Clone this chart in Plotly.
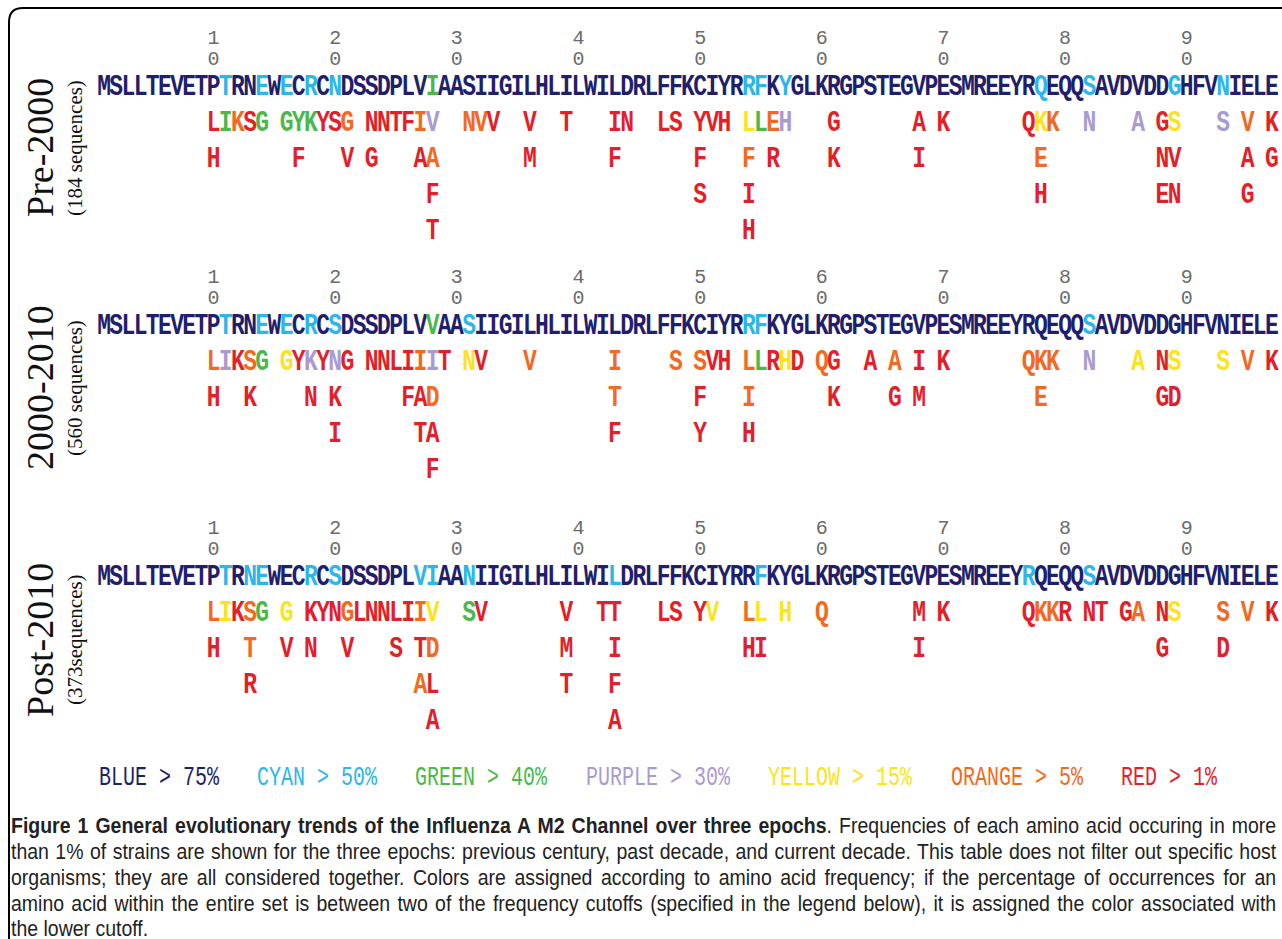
import plotly.graph_objects as go

W, H = 1282, 939

# ---------------- data ----------------
EPOCH_NAMES = ["Pre-2000", "2000-2010", "Post-2010"]
EPOCH_COUNTS = ["(184 sequences)", "(560 sequences)", "(373sequences)"]

CONSENSUS_PRE = "MSLLTEVETPTRNEWECRCNDSSDPLVIAASIIGILHLILWILDRLFFKCIYRRFKYGLKRGPSTEGVPESMREEYRQEQQSAVDVDDGHFVNIELE"
CONSENSUS_MID = "MSLLTEVETPTRNEWECRCSDSSDPLVVAASIIGILHLILWILDRLFFKCIYRRFKYGLKRGPSTEGVPESMREEYRQEQQSAVDVDDGHFVNIELE"
CONSENSUS_POST = "MSLLTEVETPTRNEWECRCSDSSDPLVIAANIIGILHLILWILDRLFFKCIYRRFKYGLKRGPSTEGVPESMREEYRQEQQSAVDVDDGHFVNIELE"

# consensus residues that are only cyan (>50%) or green (>40%)
CYAN_PRE = [11, 14, 16, 18, 20, 54, 55, 57, 78, 82, 89, 93]
GREEN_PRE = [28]
CYAN_MID = [11, 14, 16, 18, 20, 31, 54, 55, 82]
GREEN_MID = [28]
CYAN_POST = [11, 13, 14, 18, 20, 27, 28, 31, 43, 55, 77, 82]
GREEN_POST = []

# variant rows: (start position, residues, colour codes)
VARIANTS_PRE = [
    [(10, "LIKSG", "RGORG"), (16, "GYKYSG", "GGGRRO"), (23, "NNTFIV", "RRRROP"),
     (31, "NVV", "OOR"), (36, "V", "R"), (39, "T", "R"), (43, "IN", "RR"),
     (47, "LS", "RR"), (50, "YVH", "RRR"), (54, "LLEH", "YGOP"), (61, "G", "R"),
     (68, "A", "R"), (70, "K", "R"), (77, "QKK", "RYO"), (82, "N", "P"),
     (86, "A", "P"), (88, "GS", "RY"), (93, "S", "P"), (95, "V", "O"), (97, "K", "R")],
    [(10, "H", "R"), (17, "F", "R"), (21, "V", "R"), (23, "G", "R"), (27, "AA", "RO"),
     (36, "M", "R"), (43, "F", "R"), (50, "F", "R"), (54, "F", "O"), (56, "R", "R"),
     (61, "K", "R"), (68, "I", "R"), (78, "E", "O"), (88, "NV", "RR"),
     (95, "A", "R"), (97, "G", "R")],
    [(28, "F", "R"), (50, "S", "R"), (54, "I", "R"), (78, "H", "R"),
     (88, "EN", "RR"), (95, "G", "R")],
    [(28, "T", "R"), (54, "H", "R")],
]
VARIANTS_MID = [
    [(10, "LIKSG", "OPROG"), (16, "GYKYNG", "YRPRPR"), (23, "NNLIIIT", "RRRROPR"),
     (31, "NV", "YR"), (36, "V", "O"), (43, "I", "O"), (48, "S", "O"),
     (50, "SVH", "ORR"), (54, "LLRHD", "OGRYR"), (60, "QG", "OR"), (64, "A", "R"),
     (66, "A", "O"), (68, "I", "R"), (70, "K", "R"), (77, "QKK", "OOO"),
     (82, "N", "P"), (86, "A", "Y"), (88, "NS", "RY"), (93, "S", "Y"),
     (95, "V", "O"), (97, "K", "R")],
    [(10, "H", "R"), (13, "K", "R"), (18, "N", "R"), (20, "K", "R"), (26, "FAD", "RRO"),
     (43, "T", "O"), (50, "F", "R"), (54, "I", "O"), (61, "K", "R"), (66, "G", "R"),
     (68, "M", "R"), (78, "E", "O"), (88, "GD", "RR")],
    [(20, "I", "R"), (27, "TA", "RR"), (43, "F", "R"), (50, "Y", "R"), (54, "H", "R")],
    [(28, "F", "R")],
]
VARIANTS_POST = [
    [(10, "LIKSG", "OYROG"), (16, "G", "Y"), (18, "KYNGLNNLIIV", "RRRORRRRROY"),
     (31, "SV", "GR"), (39, "V", "R"), (42, "TT", "RR"), (47, "LS", "RR"),
     (50, "YV", "RY"), (54, "LL", "OY"), (57, "H", "Y"), (60, "Q", "O"),
     (68, "M", "R"), (70, "K", "R"), (77, "QKKR", "ROOR"), (82, "NT", "RR"),
     (85, "GA", "RO"), (88, "NS", "RY"), (93, "S", "O"), (95, "V", "O"), (97, "K", "R")],
    [(10, "H", "R"), (13, "T", "O"), (16, "V", "R"), (18, "N", "R"), (21, "V", "R"),
     (25, "S", "R"), (27, "TD", "RO"), (39, "M", "R"), (43, "I", "R"),
     (54, "HI", "RR"), (68, "I", "R"), (88, "G", "R"), (93, "D", "R")],
    [(13, "R", "R"), (27, "AL", "OR"), (39, "T", "R"), (43, "F", "R")],
    [(28, "A", "R"), (43, "A", "R")],
]

TICK_POS = [10, 20, 30, 40, 50, 60, 70, 80, 90]

LEGEND_LABELS = ["BLUE > 75%", "CYAN > 50%", "GREEN > 40%", "PURPLE > 30%",
                 "YELLOW > 15%", "ORANGE > 5%", "RED > 1%"]
LEGEND_CODES = ["B", "C", "G", "P", "Y", "O", "R"]

CAPTION_LINES = [
    "<b>Figure 1 General evolutionary trends of the Influenza A M2 Channel over three epochs</b>. "
    "Frequencies of each amino acid occuring in more",
    "than 1% of strains are shown for the three epochs: previous century, past decade, and current decade. "
    "This table does not filter out specific host",
    "organisms; they are all considered together. Colors are assigned according to amino acid frequency; "
    "if the percentage of occurrences for an",
    "amino acid within the entire set is between two of the frequency cutoffs (specified in the legend below), "
    "it is assigned the color associated with",
    "the lower cutoff.",
]

# ---------------- styling / layout constants ----------------
COLORS = {"B": "#211e6c", "C": "#2db6e8", "G": "#4cb849", "P": "#a99bd0",
          "Y": "#fde31c", "O": "#f26922", "R": "#e21f2a"}
SEQ_Y = [87, 326, 577]
ROW_GAP = 36
LABEL_Y = [148, 388, 640]
LEGEND_Y = 777
CAPTION_Y = [825, 851, 877, 903, 928]
SEQ_FONT = "Liberation Mono"

CONSENSUS = [CONSENSUS_PRE, CONSENSUS_MID, CONSENSUS_POST]
CYAN = [CYAN_PRE, CYAN_MID, CYAN_POST]
GREEN = [GREEN_PRE, GREEN_MID, GREEN_POST]
VARIANTS = [VARIANTS_PRE, VARIANTS_MID, VARIANTS_POST]

groups = {c: {"x": [], "y": [], "t": []} for c in COLORS}


def add(code, x, y, ch):
    groups[code]["x"].append(x)
    groups[code]["y"].append(y)
    groups[code]["t"].append(ch)


for p in range(3):
    for i, ch in enumerate(CONSENSUS[p], start=1):
        code = "C" if i in CYAN[p] else ("G" if i in GREEN[p] else "B")
        add(code, i, SEQ_Y[p], ch)
    for r, row in enumerate(VARIANTS[p], start=1):
        for start, txt, cols in row:
            for k, (ch, cc) in enumerate(zip(txt, cols)):
                add(cc, start + k, SEQ_Y[p] + r * ROW_GAP, ch)

fig = go.Figure()
for code, g in groups.items():
    fig.add_trace(go.Scatter(
        x=g["x"], y=g["y"], text=g["t"], mode="text", textposition="middle center",
        textfont=dict(family=SEQ_FONT, size=23, color=COLORS[code], weight="bold"),
        cliponaxis=False, hoverinfo="skip", showlegend=False))

# position ticks (tens digit above a zero)
tx, ty1, ty0, tt = [], [], [], []
for p in range(3):
    for v in TICK_POS:
        tx.append(v)
        ty1.append(SEQ_Y[p] - 48)
        ty0.append(SEQ_Y[p] - 27)
        tt.append(str(v // 10))
fig.add_trace(go.Scatter(x=tx, y=ty1, text=tt, mode="text", textposition="middle center",
                         textfont=dict(family=SEQ_FONT, size=20, color="#6b6b6b"),
                         cliponaxis=False, hoverinfo="skip", showlegend=False))
fig.add_trace(go.Scatter(x=tx, y=ty0, text=["0"] * len(tx), mode="text", textposition="middle center",
                         textfont=dict(family=SEQ_FONT, size=20, color="#6b6b6b"),
                         cliponaxis=False, hoverinfo="skip", showlegend=False))

annotations = []
# epoch labels
for p in range(3):
    annotations.append(dict(x=40 / W, xref="paper", y=LABEL_Y[p], yref="y", text=EPOCH_NAMES[p],
                            textangle=-90, showarrow=False, xanchor="center", yanchor="middle",
                            font=dict(family="Liberation Serif", size=38, color="#111")))
    annotations.append(dict(x=75 / W, xref="paper", y=LABEL_Y[p], yref="y", text=EPOCH_COUNTS[p],
                            textangle=-90, showarrow=False, xanchor="center", yanchor="middle",
                            font=dict(family="Liberation Serif", size=21, color="#111")))

# colour legend, laid out on the same character grid as the sequence
offset = 0
for lab, code in zip(LEGEND_LABELS, LEGEND_CODES):
    annotations.append(dict(x=0.5 + offset, xref="x", y=LEGEND_Y, yref="y", text=lab,
                            showarrow=False, xanchor="left", yanchor="middle", borderpad=0,
                            font=dict(family=SEQ_FONT, size=20, color=COLORS[code])))
    offset += len(lab) + 3

# caption
for line, yy in zip(CAPTION_LINES, CAPTION_Y):
    annotations.append(dict(x=10 / W, xref="paper", y=yy, yref="y", text=line, align="left",
                            showarrow=False, xanchor="left", yanchor="middle", borderpad=0,
                            font=dict(family="Liberation Sans", size=19.5, color="#222")))


def px(x):
    return x / W


def py(y):
    return 1 - y / H


frame = (f"M {px(9)},{py(950)} L {px(9)},{py(22)} Q {px(9)},{py(8)} {px(23)},{py(8)} "
         f"L {px(1295)},{py(8)}")

fig.update_layout(
    width=W, height=H, margin=dict(l=0, r=0, t=0, b=0),
    paper_bgcolor="white", plot_bgcolor="white",
    xaxis=dict(range=[0.5, 97.5], domain=[98 / W, 1278 / W], visible=False, fixedrange=True),
    yaxis=dict(range=[H, 0], domain=[0, 1], visible=False, fixedrange=True),
    annotations=annotations,
    shapes=[dict(type="path", path=frame, xref="paper", yref="paper",
                 line=dict(color="black", width=2))],
)

# remove the page margin, give the residue letters / legend / caption the tall,
# condensed look of the original typeface, and justify the caption lines
POST = """
document.body.style.margin = '0';
document.body.style.overflow = 'hidden';
var gd = document.getElementById('{plot_id}');
function stretch(el, s) {
  el.style.transformBox = 'fill-box';
  el.style.transformOrigin = 'center';
  el.style.transform = 'scaleY(' + s + ')';
}
var tr = gd.querySelectorAll('.scatterlayer .trace');
for (var i = 0; i < 7 && i < tr.length; i++) {
  tr[i].querySelectorAll('text').forEach(function (t) { stretch(t, 1.3); });
}
var nAnn = gd.querySelectorAll('.annotation').length;
gd.querySelectorAll('.annotation').forEach(function (a) {
  var idx = parseInt(a.getAttribute('data-index'));
  var t = a.querySelector('text');
  if (!t) return;
  if (idx >= 6 && idx <= 12) stretch(t, 1.35);
  else if (idx >= 13) {
    if (idx < nAnn - 1) {
      var w = t.getComputedTextLength();
      var n = (t.textContent.match(/ /g) || []).length;
      var target = 1266;
      if (n > 0 && w < target) t.style.wordSpacing = ((target - w) / n) + 'px';
    }
    stretch(t, 1.1);
  }
});
"""

fig.write_html("out.html", post_script=POST, config={"displayModeBar": False})
